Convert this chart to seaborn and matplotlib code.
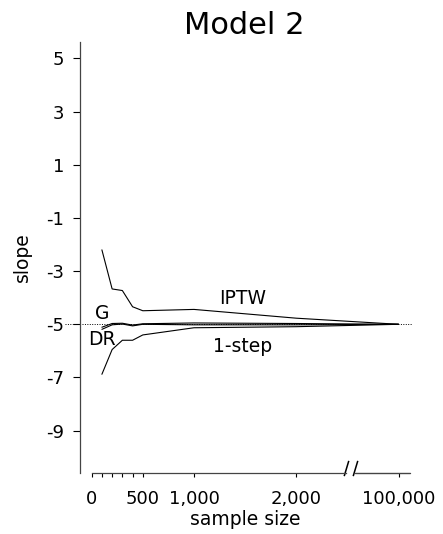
import numpy as np
import pandas as pd
import seaborn as sns
import matplotlib.pyplot as plt
import matplotlib.transforms as mtransforms
from matplotlib.lines import Line2D

# sample sizes; 100,000 is drawn at position 3000 after the axis break
sample_sizes = [100, 200, 300, 400, 500, 1000, 2000, 100000]
x_positions = [100, 200, 300, 400, 500, 1000, 2000, 3000]

iptw = [-2.20, -3.67, -3.73, -4.34, -4.49, -4.44, -4.77, -5.00]
g_comp = [-5.11, -4.97, -4.96, -5.03, -4.98, -4.95, -4.97, -5.00]
dr = [-5.19, -5.02, -4.99, -5.06, -5.00, -5.02, -5.02, -5.00]
one_step = [-6.88, -5.95, -5.60, -5.60, -5.40, -5.13, -5.09, -5.00]

true_slope = -5

x_ticks = [0, 100, 200, 300, 400, 500, 1000, 2000, 3000]
x_tick_labels = ["0", "", "", "", "", "500", "1,000", "2,000", "100,000"]
y_ticks = [5, 3, 1, -1, -3, -5, -7, -9]
y_tick_labels = ["5", "3", "1", "-1", "-3", "-5", "-7", "-9"]

series = {"IPTW": iptw, "G": g_comp, "DR": dr, "1-step": one_step}
df = pd.concat(
    [pd.DataFrame({"pos": x_positions, "n": sample_sizes, "slope": v, "estimator": k})
     for k, v in series.items()],
    ignore_index=True,
)

sns.set_theme(style="white")
plt.rcParams["font.family"] = ["DejaVu Sans"]
plt.rcParams["axes.unicode_minus"] = False
plt.rcParams["text.color"] = "black"
plt.rcParams["axes.labelcolor"] = "black"
plt.rcParams["xtick.color"] = "black"
plt.rcParams["ytick.color"] = "black"

W, H = 443, 534
fig = plt.figure(figsize=(W / 100, H / 100), dpi=100)
left, right, top, bottom = 79.5, 420, 42, 473
ax = fig.add_axes([left / W, 1 - bottom / H, (right - left) / W, (bottom - top) / H])

sns.lineplot(data=df, x="pos", y="slope", hue="estimator", units="estimator",
             estimator=None, palette=["black"] * 4, linewidth=0.8,
             legend=False, ax=ax)

xlo, xhi = -119, 3210
ylo, yhi = -10.594, 5.62
ax.set_xlim(xlo, xhi)
ax.set_ylim(ylo, yhi)

# reference line at the true slope
ax.axhline(true_slope, xmin=-0.043, xmax=0.976, color="black", lw=0.7,
           ls=(0, (1, 1.5)), clip_on=False)

# line labels
lab_kw = dict(fontsize=13.5, ha="center", va="center", color="black")
ax.text(1476, -4.02, "IPTW", **lab_kw)
ax.text(1476, -5.82, "1-step", **lab_kw)
ax.text(104, -4.61, "G", **lab_kw)
ax.text(98, -5.59, "DR", **lab_kw)

ax.set_xticks(x_ticks)
ax.set_xticklabels(x_tick_labels)
ax.set_yticks(y_ticks)
ax.set_yticklabels(y_tick_labels)
ax.tick_params(axis="y", direction="out", length=5, width=0.8, pad=6, labelsize=13,
               left=True, color="black")
ax.tick_params(axis="x", direction="out", length=3, width=0.8, pad=9, labelsize=13,
               bottom=True, color="black")

for s in ["top", "right"]:
    ax.spines[s].set_visible(False)
ax.spines["left"].set_color("#444444")
ax.spines["left"].set_linewidth(0.9)
ax.spines["bottom"].set_color("#444444")
ax.spines["bottom"].set_linewidth(0.9)
ax.spines["bottom"].set_bounds(0, 2486)

# second piece of the broken x axis (drawn at figure level) and the break marks
seg_lo, seg_hi = 2579, 3111
fig.add_artist(Line2D([seg_lo, seg_hi], [ylo, ylo], transform=ax.transData,
                      color="#444444", lw=1.0, zorder=5))
trans = mtransforms.blended_transform_factory(ax.transData, ax.transAxes)
ax.plot([2486, 2579], [0.012, 0.012], transform=trans, ls="none", color="black",
        marker=[(-0.3, -1), (0.3, 1)], markersize=11, markeredgewidth=1.1, clip_on=False)

ax.set_title("Model 2", fontsize=22, pad=6, x=0.485)
ax.set_xlabel("sample size", fontsize=13.5)
ax.set_ylabel("slope", fontsize=13.5)
ax.xaxis.set_label_coords(0.486, -0.085)
ax.yaxis.set_label_coords(-0.14, 0.501)

fig.savefig("out.png", dpi=100)
